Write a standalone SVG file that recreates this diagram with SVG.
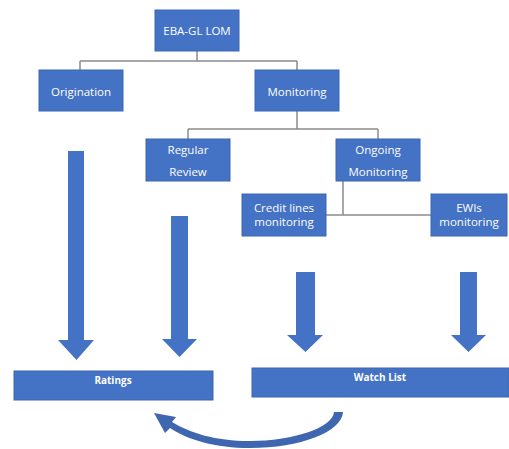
<svg xmlns="http://www.w3.org/2000/svg" width="509" height="449" viewBox="0 0 509 449">
<style>
.box{fill:#4472C4;stroke:#3B66B2;stroke-width:1}
.t{font-family:"Open Sans","Liberation Sans",sans-serif;font-size:11.5px;fill:#ffffff;text-anchor:middle;dominant-baseline:central}
.tb{font-family:"Open Sans","Liberation Sans",sans-serif;font-size:10px;font-weight:bold;fill:#ffffff;text-anchor:middle;dominant-baseline:central}
.c{fill:none;stroke:#8C8C8C;stroke-width:1.5}
.arr{fill:#4472C4}
</style>
<rect width="509" height="449" fill="#ffffff"/>
<g id="connectors">
<path class="c" d="M197,51 V61 M80,61 H297 M80,61 V70 M297,61 V70"/>
<path class="c" d="M297,111 V129 M188,129 H378 M188,129 V139 M378,129 V139"/>
<path class="c" d="M343,181 V215 M326,215 H431"/>
<path id="arrow-orig" class="arr" d="M68,151 H84 V340 H94 L76.5,360 L58,340 H68 Z"/>
<path id="arrow-review" class="arr" d="M171,216 H188 V339 H197 L179.5,357 L162,339 H171 Z"/>
<path id="arrow-credit" class="arr" d="M296,272 H315 V335 H323 L305.5,352 L287,335 H296 Z"/>
<path id="arrow-ewi" class="arr" d="M460,272 H477 V335 H486 L468.5,352 L451,335 H460 Z"/>
<path id="arrow-curve" fill="#3F67B0" d="M343,412 C342,432 300,448 250,448 C215,448 188,440 170,428 L165,433 L154,413 L176,417 L172,422 C190,433 215,441 250,441 C292,441 333,428 334,412 Z"/>
</g>
<g id="eba"><rect class="box" x="155" y="10" width="84" height="41"/><text class="t" x="197" y="30">EBA-GL LOM</text></g>
<g id="origination"><rect class="box" x="39" y="70" width="84" height="41"/><text class="t" x="81" y="91">Origination</text></g>
<g id="monitoring"><rect class="box" x="255" y="70" width="84" height="41"/><text class="t" x="297" y="91">Monitoring</text></g>
<g id="regular-review"><rect class="box" x="146" y="139" width="84" height="42"/><text class="t" x="188" y="149">Regular</text><text class="t" x="188" y="171">Review</text></g>
<g id="ongoing-monitoring"><rect class="box" x="336" y="139" width="84" height="42"/><text class="t" x="378" y="149">Ongoing</text><text class="t" x="378" y="171">Monitoring</text></g>
<g id="credit-lines"><rect class="box" x="242" y="194" width="84" height="42"/><text class="t" x="284" y="207">Credit lines</text><text class="t" x="284" y="221">monitoring</text></g>
<g id="ewis"><rect class="box" x="431" y="194" width="76" height="42"/><text class="t" x="469" y="207">EWIs</text><text class="t" x="469" y="221">monitoring</text></g>
<g id="ratings"><rect class="box" x="14" y="371" width="199" height="29"/><text class="tb" x="113" y="380">Ratings</text></g>
<g id="watch-list"><rect class="box" x="252" y="368" width="257" height="29"/><text class="tb" x="380" y="377">Watch List</text></g>
</svg>
